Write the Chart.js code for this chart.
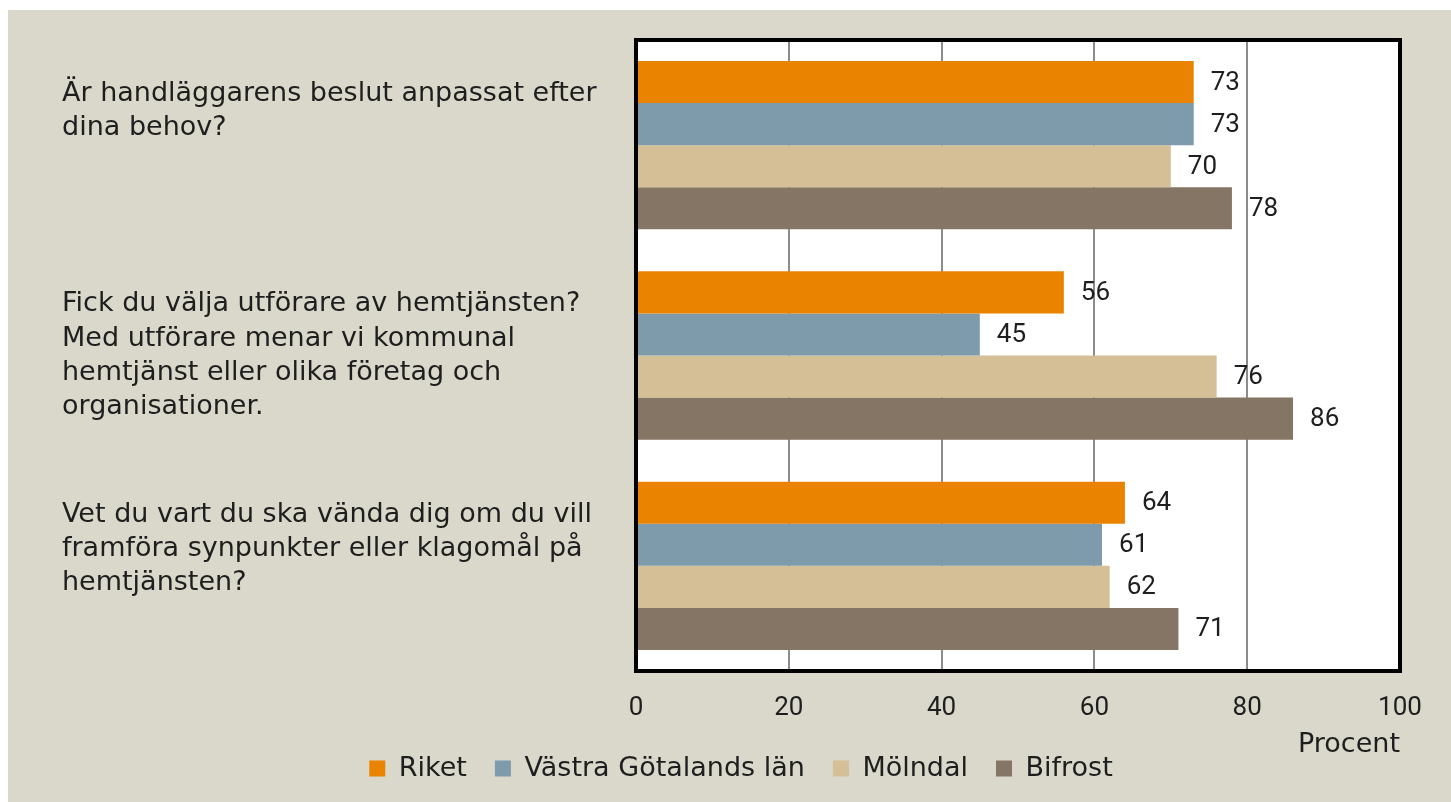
<!DOCTYPE html>
<html>
<head>
<meta charset="utf-8">
<script src="https://cdn.jsdelivr.net/npm/chart.js@4.4.1/dist/chart.umd.min.js"></script>
<style>
  body { margin: 0; background: #fff; }
  #wrap { width: 1451px; height: 802px; position: relative; }
</style>
</head>
<body>
<div id="wrap"><canvas id="barchart"></canvas></div>
<script>
var questions = [
  ["Är handläggarens beslut anpassat efter", "dina behov?", "", ""],
  ["Fick du välja utförare av hemtjänsten?", "Med utförare menar vi kommunal", "hemtjänst eller olika företag och", "organisationer."],
  ["Vet du vart du ska vända dig om du vill", "framföra synpunkter eller klagomål på", "hemtjänsten?", ""]
];
var riket = [73, 56, 64];
var vastraGotaland = [73, 45, 61];
var molndal = [70, 76, 62];
var bifrost = [78, 86, 71];
var xTicks = [0, 20, 40, 60, 80, 100];

var font = "'DejaVu Sans', sans-serif";
var numFont = "Roboto, 'DejaVu Sans', sans-serif";
var textColor = "#1e1e1e";

// beige page, white plot, black frame, value labels
var decor = {
  id: 'decor',
  afterLayout: function(chart) {
    // legend sits a bit right of centre in the original
    if (chart.legend) { chart.legend.left += 20; }
  },
  beforeDraw: function(chart) {
    var c = chart.ctx, a = chart.chartArea;
    c.save();
    c.fillStyle = "#dad8cb";
    c.fillRect(8, 10, chart.width - 8, chart.height - 10);
    c.fillStyle = "#ffffff";
    c.fillRect(a.left, a.top, a.right - a.left, a.bottom - a.top);
    c.restore();
  },
  afterDatasetsDraw: function(chart) {
    var c = chart.ctx, a = chart.chartArea;
    c.save();
    c.strokeStyle = "#000";
    c.lineWidth = 4;
    c.strokeRect(a.left, a.top, a.right - a.left, a.bottom - a.top);
    c.font = "26px " + numFont;
    c.fillStyle = textColor;
    c.textAlign = "left";
    c.textBaseline = "middle";
    chart.data.datasets.forEach(function(ds, i) {
      chart.getDatasetMeta(i).data.forEach(function(bar, j) {
        c.fillText(ds.data[j], bar.x + 17, bar.y + 1);
      });
    });
    c.restore();
  }
};

new Chart(document.getElementById("barchart"), {
  type: 'bar',
  data: {
    labels: questions,
    datasets: [{
      label: 'Riket',
      data: riket,
      backgroundColor: "#e98300"
    }, {
      label: 'Västra Götalands län',
      data: vastraGotaland,
      backgroundColor: "#7e9bac"
    }, {
      label: 'Mölndal',
      data: molndal,
      backgroundColor: "#d4bf96"
    }, {
      label: 'Bifrost',
      data: bifrost,
      backgroundColor: "#857565"
    }]
  },
  plugins: [decor],
  options: {
    indexAxis: 'y',
    responsive: true,
    maintainAspectRatio: false,
    animation: false,
    categoryPercentage: 0.8,
    barPercentage: 1.0,
    layout: { padding: { left: 62, right: 51, top: 40, bottom: 10 } },
    scales: {
      x: {
        min: 0,
        max: 100,
        afterBuildTicks: function(scale) {
          scale.ticks = xTicks.map(function(v) { return { value: v }; });
        },
        afterFit: function(scale) {
          scale.paddingLeft = 0;
          scale.paddingRight = 0;
          scale.height = 56;
        },
        grid: {
          drawTicks: false,
          lineWidth: 2,
          color: function(ctx) {
            return (ctx.tick && (ctx.tick.value === 0 || ctx.tick.value === 100)) ? 'rgba(0,0,0,0)' : '#8c8c8c';
          }
        },
        border: { display: false },
        ticks: { padding: 22, color: textColor, font: { family: numFont, size: 26 } },
        title: {
          display: true,
          text: 'Procent',
          align: 'end',
          color: textColor,
          font: { family: font, size: 27 },
          padding: { top: 0, bottom: -34 }
        }
      },
      y: {
        afterFit: function(scale) {
          scale.width = 574;
          scale.paddingTop = 0;
          scale.paddingBottom = 0;
        },
        grid: { display: false, drawTicks: false },
        border: { display: false },
        ticks: {
          crossAlign: 'far',
          color: textColor,
          font: { family: font, size: 27, lineHeight: 1.26 }
        }
      }
    },
    plugins: {
      legend: {
        position: 'bottom',
        labels: {
          boxWidth: 16,
          boxHeight: 16,
          padding: 28,
          color: textColor,
          font: { family: font, size: 27 }
        }
      },
      tooltip: { enabled: false }
    }
  }
});
</script>
</body>
</html>
